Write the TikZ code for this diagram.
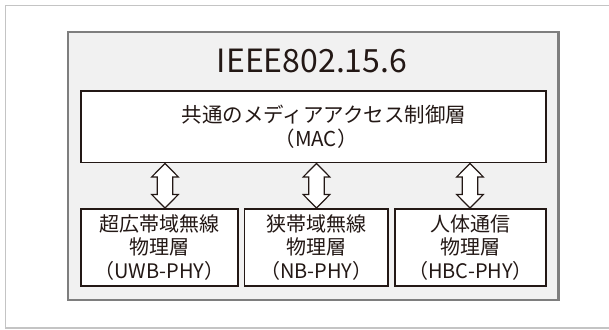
\documentclass[tikz,border=0pt]{standalone}
\usepackage{fontspec}
\setmainfont{Noto Sans CJK JP}
\usetikzlibrary{calc}
\definecolor{ink}{HTML}{231815}
\definecolor{panelfill}{HTML}{F1F1F1}
\definecolor{panelline}{HTML}{7E7E7E}
\definecolor{frameline}{HTML}{C4C4C4}
\tikzset{
  layerbox/.style={draw=ink, line width=1.9pt, fill=white, align=center, text=ink, inner sep=0pt},
  dblarrow/.style={draw=ink, line width=1.2pt, fill=white, line join=miter},
}
\newcommand{\myvarrow}[2]{%
  \draw[dblarrow] (#1) -- ($(#1)+(13.3,-13.5)$) -- ($(#1)+(7.8,-13.5)$)
    -- ($(#2)+(7.8,13.5)$) -- ($(#2)+(13.3,13.5)$) -- (#2)
    -- ($(#2)+(-13.3,13.5)$) -- ($(#2)+(-7.8,13.5)$)
    -- ($(#1)+(-7.8,-13.5)$) -- ($(#1)+(-13.3,-13.5)$) -- cycle;}
\begin{document}
\begin{tikzpicture}[x=1pt,y=1pt]
\useasboundingbox (0,0) rectangle (609,329);
% outer frame (right side runs off the page)
\draw[frameline, line width=1.5pt] (610,323.4) -- (5.7,323.4) -- (5.7,0.8) -- (610,0.8);
% grey panel
\draw[panelline, fill=panelfill, line width=2.2pt] (67.7,297) rectangle (558.5,29);
\node[anchor=base, text=ink, font=\fontsize{32}{36}\selectfont] (title) at (312,256.7) {IEEE802.15.6};
% MAC layer
\node[layerbox, minimum width=465pt, minimum height=71.5pt,
      font=\fontsize{20.5}{24.5}\selectfont] (mac) at (313.5,202.25)
  {\hspace*{21pt}共通のメディアアクセス制御層\\\hspace*{5pt}（MAC）};
% PHY layers
\node[layerbox, minimum width=157pt, minimum height=77pt,
      font=\fontsize{20}{23.5}\selectfont] (uwb) at (159.5,81.5)
  {超広帯域無線\\物理層\\（UWB-PHY）};
\node[layerbox, minimum width=143.5pt, minimum height=77pt,
      font=\fontsize{20}{23.5}\selectfont] (nb) at (316.25,81.5)
  {狭帯域無線\\物理層\\（NB-PHY）};
\node[layerbox, minimum width=151pt, minimum height=77pt,
      font=\fontsize{20}{23.5}\selectfont] (hbc) at (470.5,81.5)
  {人体通信\\物理層\\（HBC-PHY）};
% arrows
\coordinate (ax1) at (165,0);
\coordinate (ax2) at (316.5,0);
\coordinate (ax3) at (470,0);
\coordinate (t1) at (ax1 |- mac.south);
\coordinate (b1) at (ax1 |- uwb.north);
\coordinate (t2) at (ax2 |- mac.south);
\coordinate (b2) at (ax2 |- nb.north);
\coordinate (t3) at (ax3 |- mac.south);
\coordinate (b3) at (ax3 |- hbc.north);
\myvarrow{t1}{b1}
\myvarrow{t2}{b2}
\myvarrow{t3}{b3}
\end{tikzpicture}
\end{document}
